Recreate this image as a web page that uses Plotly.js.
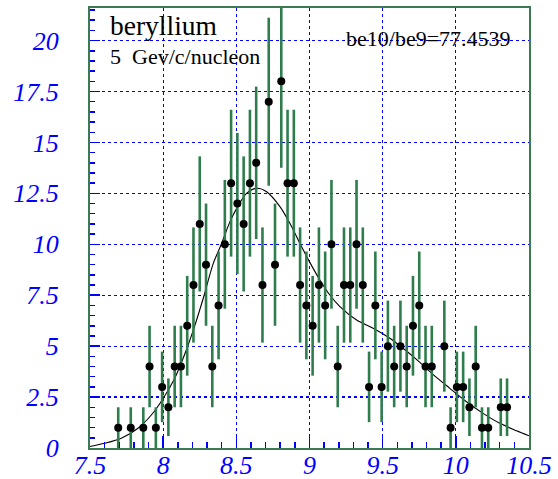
<!DOCTYPE html>
<html>
<head>
<meta charset="utf-8">
<script src="https://cdn.plot.ly/plotly-3.0.1.min.js"></script>
<style>
  html, body { margin: 0; padding: 0; background: #ffffff; }
  #chart { width: 558px; height: 479px; }
</style>
</head>
<body>
<div id="chart"></div>
<script>
// Histogram bin centres (GeV/c/nucleon scale) and counts of the non-empty bins
const binCenters = [
  7.6929, 7.7786, 7.8643, 7.9071, 7.9500, 7.9929, 8.0357, 8.0786, 8.1214, 8.1643,
  8.2071, 8.2500, 8.2929, 8.3357, 8.3786, 8.4214, 8.4643, 8.5071, 8.5500, 8.5929,
  8.6357, 8.6786, 8.7214, 8.7643, 8.8071, 8.8500, 8.8929, 8.9357, 8.9786, 9.0214,
  9.0643, 9.1071, 9.1500, 9.1929, 9.2357, 9.2786, 9.3214, 9.3643, 9.4071, 9.4500,
  9.4929, 9.5357, 9.5786, 9.6214, 9.6643, 9.7071, 9.7500, 9.7929, 9.8357, 9.9214,
  9.9643, 10.0071, 10.0500, 10.0929, 10.1357, 10.1786, 10.2214, 10.3071, 10.3500
];
const counts = [
  1, 1, 1, 4, 1, 3, 2, 4, 4, 6,
  8, 11, 9, 4, 7, 10, 13, 12, 11, 13,
  14, 8, 17, 9, 18, 13, 13, 8, 7, 6,
  8, 7, 10, 4, 8, 8, 10, 8, 3, 7,
  3, 5, 4, 5, 4, 6, 7, 4, 4, 5,
  1, 3, 3, 2, 4, 1, 1, 2, 2
];

// Fitted curve, sampled along the axis
const fitX = [
  7.5, 7.6, 7.714, 7.828, 7.919, 7.999, 8.079, 8.147, 8.214, 8.274,
  8.342, 8.400, 8.456, 8.509, 8.570, 8.639, 8.707, 8.798, 8.866, 8.934,
  9.003, 9.071, 9.139, 9.208, 9.322, 9.435, 9.549, 9.618, 9.731, 9.845,
  9.959, 10.073, 10.186, 10.301, 10.415, 10.5
];
const fitY = [
  0.07, 0.23, 0.48, 0.97, 1.62, 2.42, 3.42, 4.6, 5.96, 7.35,
  9.05, 10.05, 11.1, 11.85, 12.5, 12.75, 12.58, 11.85, 11.03, 10.05,
  9.1, 8.25, 7.51, 6.94, 6.28, 5.88, 5.39, 5.02, 4.35, 3.6,
  2.93, 2.27, 1.70, 1.21, 0.85, 0.6
];

const xTicks = [7.5, 8, 8.5, 9, 9.5, 10, 10.5];
const yTicks = [0, 2.5, 5, 7.5, 10, 12.5, 15, 17.5, 20];

const titleText = 'beryllium';
const subtitleText = '5  Gev/c/nucleon';
const ratioText = 'be10/be9=77.4539';

// Poisson errors on each bin count
const countErrors = counts.map(c => Math.sqrt(c));

const blue = '#0000ff';
const frameGreen = '#3d7a52';
const barGreen = '#2f7d4c';
const labelFont = { family: 'Liberation Serif, Times New Roman, serif', size: 26, color: blue, style: 'italic' };

const points = {
  x: binCenters,
  y: counts,
  type: 'scatter',
  mode: 'markers',
  marker: { color: '#000000', size: 8 },
  error_y: { type: 'data', array: countErrors, visible: true, color: barGreen, thickness: 2.6, width: 0 },
  hoverinfo: 'x+y'
};

const fit = {
  x: fitX,
  y: fitY,
  type: 'scatter',
  mode: 'lines',
  line: { color: '#000000', width: 1.1, shape: 'spline', smoothing: 0.8 },
  hoverinfo: 'skip'
};

const textFont = { family: 'Liberation Serif, Times New Roman, serif', color: '#000000' };

const layout = {
  width: 558,
  height: 479,
  margin: { l: 90, r: 29, t: 8, b: 31 },
  paper_bgcolor: '#ffffff',
  plot_bgcolor: '#ffffff',
  showlegend: false,
  xaxis: {
    range: [7.5, 10.5],
    tickvals: xTicks,
    ticks: 'inside',
    ticklen: 12,
    tickwidth: 1.5,
    tickcolor: blue,
    tickfont: labelFont,
    ticklabelstandoff: -7,
    showgrid: true,
    gridcolor: blue,
    griddash: 'dot',
    gridwidth: 1.2,
    zeroline: false,
    showline: true,
    linecolor: frameGreen,
    linewidth: 2,
    mirror: true,
    minor: { dtick: 0.1, ticks: 'inside', ticklen: 6, tickcolor: blue, tickwidth: 1.5, showgrid: false }
  },
  yaxis: {
    range: [0, 21.6],
    tickvals: yTicks,
    ticks: 'inside',
    ticklen: 10,
    tickwidth: 1.5,
    tickcolor: blue,
    tickfont: labelFont,
    ticklabelstandoff: 24,
    showgrid: true,
    gridcolor: blue,
    griddash: 'dot',
    gridwidth: 1.2,
    zeroline: false,
    showline: true,
    linecolor: frameGreen,
    linewidth: 2,
    mirror: true,
    minor: { dtick: 0.5, ticks: 'inside', ticklen: 5, tickcolor: blue, tickwidth: 1.5, showgrid: false }
  },
  annotations: [
    { text: titleText, xref: 'paper', yref: 'paper', x: 0.041, y: 0.961,
      xanchor: 'left', yanchor: 'middle', showarrow: false, font: Object.assign({ size: 27.5 }, textFont) },
    { text: subtitleText, xref: 'paper', yref: 'paper', x: 0.041, y: 0.890,
      xanchor: 'left', yanchor: 'middle', showarrow: false, font: Object.assign({ size: 22 }, textFont) },
    { text: ratioText, xref: 'paper', yref: 'paper', x: 0.578, y: 0.931,
      xanchor: 'left', yanchor: 'middle', showarrow: false, font: Object.assign({ size: 22 }, textFont) }
  ]
};

Plotly.newPlot('chart', [fit, points], layout, { staticPlot: true, displayModeBar: false });
</script>
</body>
</html>
